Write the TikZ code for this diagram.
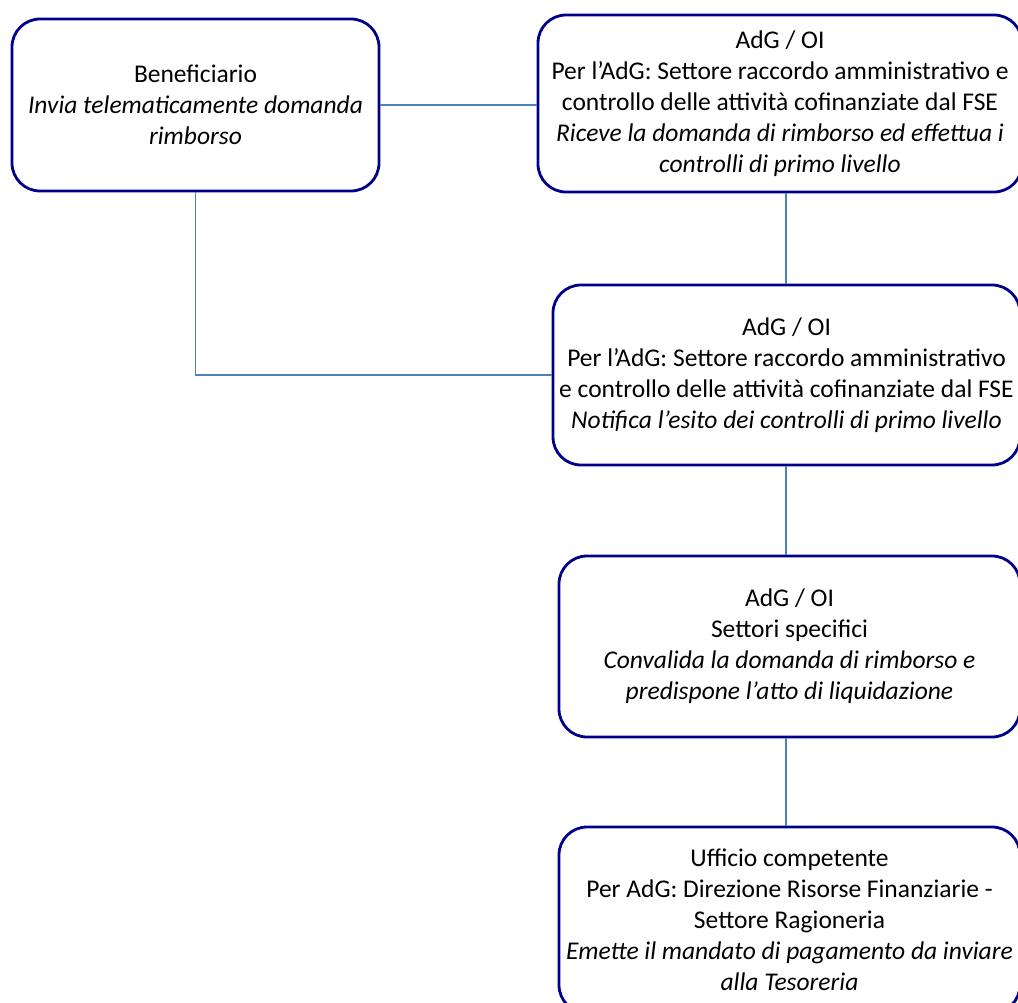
\documentclass[tikz,border=0pt]{standalone}
\usepackage{fontspec}
\setmainfont{Carlito}
\definecolor{boxline}{RGB}{0,0,139}
\definecolor{linkline}{RGB}{79,129,189}
\begin{document}
\begin{tikzpicture}[x=1pt,y=-1pt,
  stepbox/.style={draw=boxline, line width=2.8pt, fill=white, rounded corners=28pt,
    align=center, inner sep=0pt, font=\fontsize{25.5}{31}\selectfont},
  link/.style={draw=linkline, line width=1.9pt}]
\fill[white] (0,0) rectangle (1018,1003);
\useasboundingbox (0,0) rectangle (1018,1003);
% boxes
\node[stepbox, minimum width=367pt, minimum height=172pt] (b1) at (195.5,105)
  {Beneficiario\\ \textit{Invia telematicamente domanda}\\ \textit{rimborso}};
\node[stepbox, minimum width=484pt, minimum height=177pt] (b2) at (780,103.5)
  {AdG / OI\\ Per l’AdG: Settore raccordo amministrativo e\\ controllo delle attività cofinanziate dal FSE\\ \textit{Riceve la domanda di rimborso ed effettua i}\\ \textit{controlli di primo livello}};
\node[stepbox, minimum width=467pt, minimum height=180pt] (b3) at (786.5,375)
  {AdG / OI\\ Per l’AdG: Settore raccordo amministrativo\\ e controllo delle attività cofinanziate dal FSE\\ \textit{Notifica l’esito dei controlli di primo livello}};
\node[stepbox, minimum width=461pt, minimum height=181pt] (b4) at (789.5,646.5)
  {AdG / OI\\ Settori specifici\\ \textit{Convalida la domanda di rimborso e}\\ \textit{predispone l’atto di liquidazione}};
\node[stepbox, minimum width=461pt, minimum height=186pt] (b5) at (789.5,920)
  {Ufficio competente\\ Per AdG: Direzione Risorse Finanziarie -\\ Settore Ragioneria\\ \textit{Emette il mandato di pagamento da inviare}\\ \textit{alla Tesoreria}};
% connectors
\coordinate (spine) at (786,0);
\draw[link] (b1.east) -- (b1.east -| b2.west);
\draw[link] (b1.south) |- (b3.west);
\draw[link] (spine |- b2.south) -- (spine |- b3.north);
\draw[link] (spine |- b3.south) -- (spine |- b4.north);
\draw[link] (spine |- b4.south) -- (spine |- b5.north);
\end{tikzpicture}
\end{document}
